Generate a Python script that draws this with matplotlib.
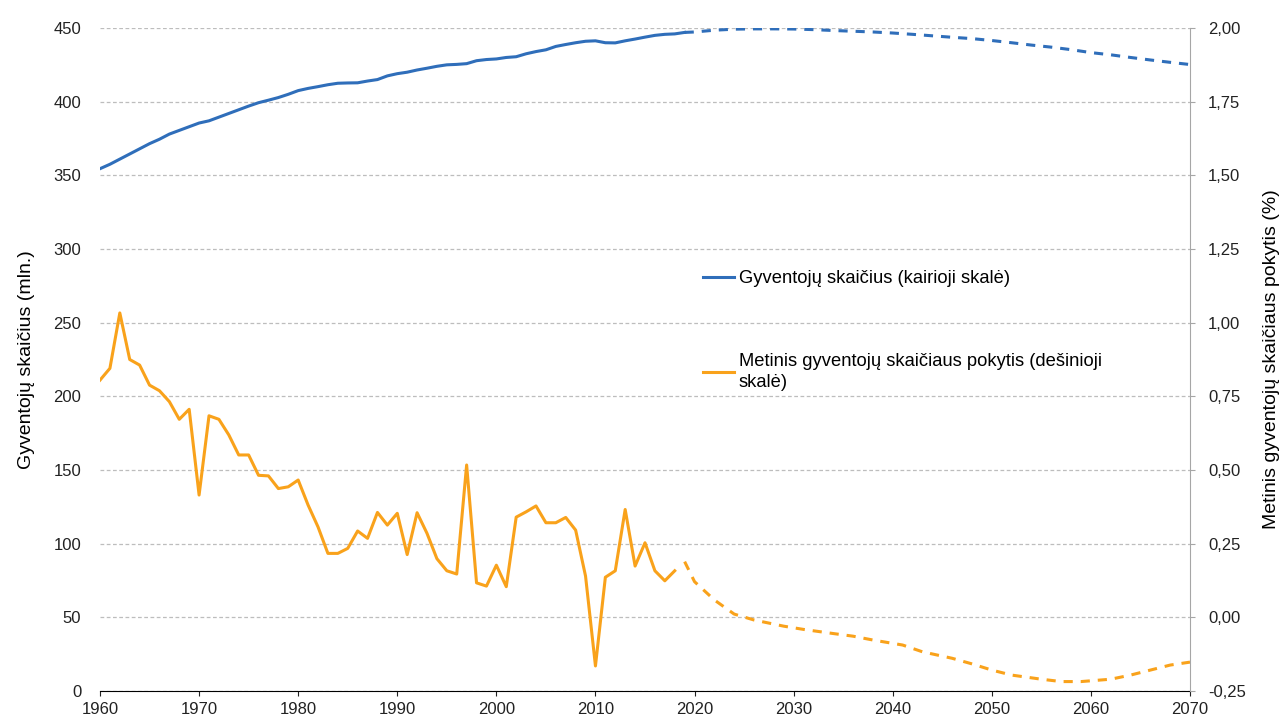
import matplotlib.pyplot as plt
from matplotlib.ticker import FuncFormatter

plt.rcParams['font.family'] = ['Liberation Sans', 'DejaVu Sans']

# gyventoju skaicius (mln.), faktiniai duomenys 1960-2019
years_hist = list(range(1960, 2020))
pop_hist = [354.5, 357.5, 361.0, 364.5, 368.0, 371.5, 374.5, 378.0, 380.5, 383.0,
            385.5, 387.0, 389.5, 392.0, 394.5, 397.0, 399.3, 401.0, 402.8, 405.0,
            407.5, 409.0, 410.2, 411.5, 412.5, 412.7, 412.8, 414.0, 415.0, 417.5,
            419.0, 420.0, 421.5, 422.7, 424.0, 425.0, 425.3, 425.8, 427.8, 428.6,
            429.0, 430.0, 430.5, 432.5, 434.0, 435.2, 437.5, 438.8, 440.0, 441.0,
            441.3, 440.0, 439.9, 441.3, 442.5, 443.8, 445.0, 445.7, 446.0, 447.0]

# projekcija
years_proj = [2019, 2020, 2022, 2024, 2026, 2028, 2030, 2032, 2034, 2036, 2038, 2040,
              2042, 2044, 2046, 2048, 2050, 2052, 2054, 2056, 2058, 2060, 2062, 2064,
              2066, 2068, 2070]
pop_proj = [447.0, 447.3, 448.5, 449.2, 449.4, 449.4, 449.3, 448.9, 448.3, 447.8,
            447.3, 446.6, 445.7, 444.7, 443.7, 442.8, 441.5, 440.0, 438.4, 437.0,
            435.3, 433.3, 431.8, 430.0, 428.3, 426.7, 425.2]

# metinis pokytis (%), 1960-2018
years_chg = list(range(1960, 2019))
chg_hist = [0.805, 0.845, 1.033, 0.875, 0.856, 0.788, 0.769, 0.732, 0.672, 0.706,
            0.415, 0.684, 0.672, 0.619, 0.551, 0.551, 0.482, 0.480, 0.437, 0.443,
            0.466, 0.381, 0.307, 0.217, 0.217, 0.234, 0.293, 0.268, 0.356, 0.313,
            0.353, 0.213, 0.355, 0.285, 0.199, 0.158, 0.147, 0.517, 0.117, 0.106,
            0.177, 0.104, 0.340, 0.358, 0.378, 0.321, 0.321, 0.339, 0.296, 0.140,
            -0.165, 0.136, 0.158, 0.366, 0.174, 0.253, 0.158, 0.124, 0.158]

years_chg_proj = [2019, 2020, 2022, 2024, 2026, 2029, 2031, 2034, 2036, 2038, 2041,
                  2043, 2046, 2048, 2050, 2052, 2055, 2057, 2059, 2062, 2064, 2066,
                  2068, 2070]
chg_proj = [0.189, 0.121, 0.059, 0.011, -0.009, -0.030, -0.041, -0.055, -0.064,
            -0.077, -0.094, -0.117, -0.139, -0.158, -0.179, -0.196, -0.210, -0.218,
            -0.218, -0.210, -0.196, -0.179, -0.162, -0.152]

blue = '#2F6EBA'
orange = '#F9A21B'
tick_fs = 12
lab_fs = 14
leg_fs = 13.2

fig = plt.figure(figsize=(12.84, 7.27), dpi=100)
ax = fig.add_axes([100 / 1284, 36 / 727, 1090 / 1284, 663 / 727])
ax2 = ax.twinx()

l1, = ax.plot(years_hist, pop_hist, color=blue, lw=2.2)
ax.plot(years_proj, pop_proj, color=blue, lw=2.2, linestyle=(0, (3, 2.6)))
l2, = ax2.plot(years_chg, chg_hist, color=orange, lw=2.2)
ax2.plot(years_chg_proj, chg_proj, color=orange, lw=2.2, linestyle=(0, (3, 2.6)))

ax.set_xlim(1960, 2070)
ax.set_ylim(0, 450)
ax2.set_ylim(-0.25, 2.0)
ax.set_xticks(range(1960, 2071, 10))
ax.set_yticks(range(0, 451, 50))
ax2.set_yticks([-0.25 + 0.25 * i for i in range(10)])
ax2.yaxis.set_major_formatter(FuncFormatter(lambda v, p: f'{v:.2f}'.replace('.', ',')))

ax.grid(axis='y', color='#BDBDBD', linestyle=(0, (3, 2)), lw=0.9)
ax.set_axisbelow(True)

for a in (ax, ax2):
    a.spines['top'].set_visible(False)
    a.spines['left'].set_visible(False)
ax.spines['right'].set_visible(False)
ax2.spines['bottom'].set_visible(False)
ax2.spines['right'].set_color('#A6A6A6')
ax.spines['bottom'].set_color('black')

ax.tick_params(axis='y', length=0, pad=13.5, labelsize=tick_fs, colors='#222222')
ax.tick_params(axis='x', length=3.6, direction='out', pad=4, labelsize=tick_fs,
               colors='#222222')
ax2.tick_params(axis='y', length=3.6, direction='out', pad=9.5, labelsize=tick_fs,
                color='#A6A6A6', labelcolor='#222222')

ax.set_ylabel('Gyventojų skaičius (mln.)', fontsize=lab_fs, labelpad=13)
ax2.set_ylabel('Metinis gyventojų skaičiaus pokytis (%)', fontsize=lab_fs, labelpad=12)

leg = ax2.legend([l1, l2], ['Gyventojų skaičius (kairioji skalė)',
                            'Metinis gyventojų skaičiaus pokytis (dešinioji\nskalė)'],
                 loc='upper left', bbox_to_anchor=(0.553, 0.6345), frameon=False,
                 fontsize=leg_fs, handlelength=1.7, handletextpad=0.27,
                 labelspacing=3.6, borderpad=0, borderaxespad=0)
for t in leg.get_texts():
    t.set_linespacing(1.25)

fig.savefig('out.png', dpi=100)
